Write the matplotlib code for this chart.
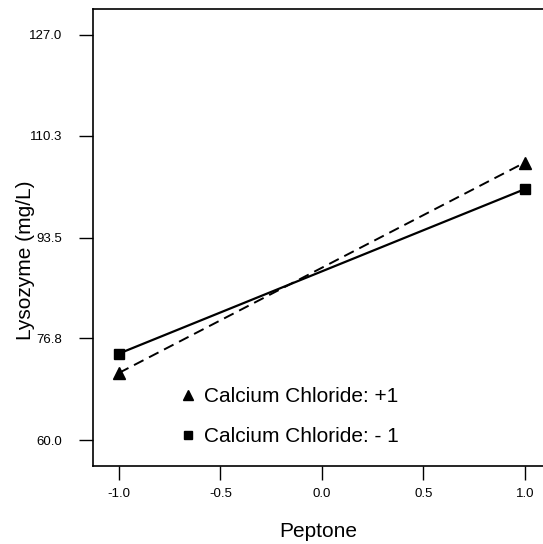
import matplotlib
matplotlib.use("Agg")
import matplotlib.pyplot as plt
from matplotlib.lines import Line2D

plt.rcParams['font.family'] = ['Liberation Sans', 'DejaVu Sans']

peptone = [-1.0, 1.0]
cacl_plus = [71.1, 105.9]
cacl_minus = [74.3, 101.5]
yticks = [60.0, 76.8, 93.5, 110.3, 127.0]
xticks = [-1.0, -0.5, 0.0, 0.5, 1.0]
labels = ["Calcium Chloride: +1", "Calcium Chloride: - 1"]

W, H = 543, 544
fig = plt.figure(figsize=(W/100, H/100), dpi=100)
ax = fig.add_axes([93/W, 1-466/H, (W-93)/W + 0.002, (466-9)/H])

ax.plot(peptone, cacl_plus, color='black', lw=1.4, ls=(0, (5.5, 3.2)),
        marker='^', ms=8, clip_on=False)
ax.plot(peptone, cacl_minus, color='black', lw=1.6, ls='-',
        marker='s', ms=6.5, clip_on=False)

ax.set_xlim(-1.128, 1.095)
ax.set_ylim(55.7, 131.3)
ax.set_xticks(xticks)
ax.set_xticklabels([f"{v:.1f}" for v in xticks])
ax.set_yticks(yticks)
ax.set_yticklabels([f"{v:.1f}" for v in yticks])

ax.spines['right'].set_visible(False)
for s in ['left', 'bottom', 'top']:
    ax.spines[s].set_linewidth(1.2)

ax.tick_params(axis='both', direction='out', length=10, width=1.0,
               labelsize=9.5, colors='black')
ax.tick_params(axis='y', pad=12)
ax.tick_params(axis='x', pad=6)

ax.set_xlabel("Peptone", fontsize=15, labelpad=16)
ax.set_ylabel("Lysozyme (mg/L)", fontsize=15)
ax.yaxis.set_label_coords(-0.129, (466-260)/457)

handles = [Line2D([], [], color='black', marker='^', ls='none', ms=7.5),
           Line2D([], [], color='black', marker='s', ls='none', ms=5.5)]
leg = fig.legend(handles, labels, loc='upper left',
                 bbox_to_anchor=(180/W, 1-387/H), frameon=False,
                 fontsize=15, handlelength=0.8, handletextpad=0.35,
                 labelspacing=1.0, borderpad=0, borderaxespad=0)

fig.savefig("out.png", dpi=100)
